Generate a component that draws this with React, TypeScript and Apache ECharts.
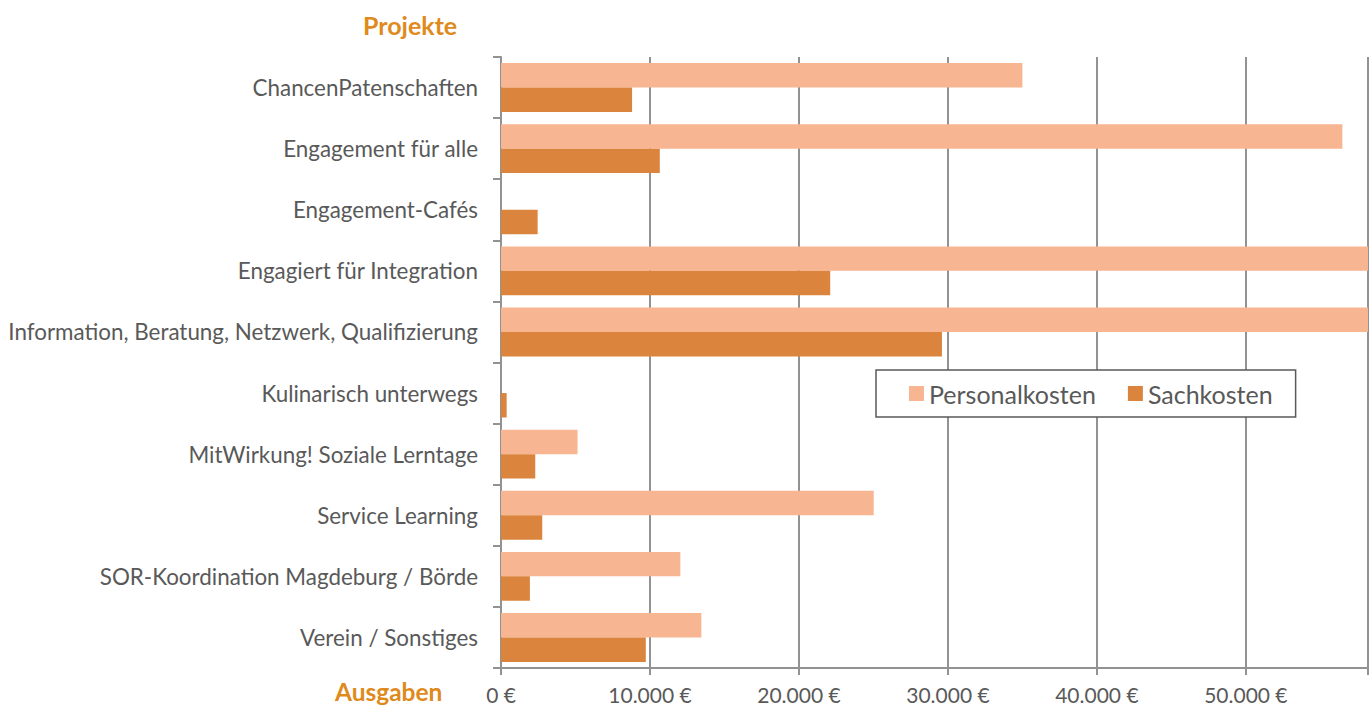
import { useEffect, useRef } from 'react';
import * as echarts from 'echarts';

const categories = [
  'ChancenPatenschaften',
  'Engagement für alle',
  'Engagement-Cafés',
  'Engagiert für Integration',
  'Information, Beratung, Netzwerk, Qualifizierung',
  'Kulinarisch unterwegs',
  'MitWirkung! Soziale Lerntage',
  'Service Learning',
  'SOR-Koordination Magdeburg / Börde',
  'Verein / Sonstiges',
];

const personalkosten = [35000, 56480, null, 61000, 61000, null, 5140, 25020, 12040, 13450];
const sachkosten = [8800, 10660, 2460, 22100, 29600, 380, 2300, 2770, 1940, 9720];

const tickValues = [0, 10000, 20000, 30000, 40000, 50000];
const axisMax = 58200;

const FONT = 'Lato, "Open Sans", sans-serif';
const TEXT = '#595959';
const GRID = '#929292';
const ORANGE_TITLE = '#DF8A1C';

function fmt(v: number) {
  return String(v).replace(/\B(?=(\d{3})+(?!\d))/g, '.') + ' €';
}

export default function App() {
  const ref = useRef<HTMLDivElement>(null);
  useEffect(() => {
    if (!ref.current) return;
    const chart = echarts.init(ref.current, null, { renderer: 'svg' });
    chart.setOption({
      animation: false,
      backgroundColor: '#ffffff',
      textStyle: { fontFamily: FONT },
      grid: { left: 501, top: 57, bottom: 39, right: 0, containLabel: false },
      legend: {
        left: 876,
        top: 370,
        orient: 'horizontal',
        icon: 'rect',
        itemWidth: 15,
        itemHeight: 15,
        itemGap: 32,
        padding: [11, 23, 11, 33],
        borderColor: '#5a5a5a',
        borderWidth: 1.5,
        backgroundColor: '#ffffff',
        textStyle: { fontSize: 25, color: TEXT, fontFamily: FONT },
        data: ['Personalkosten', 'Sachkosten'],
      },
      xAxis: {
        type: 'value',
        min: 0,
        max: axisMax,
        interval: 10000,
        axisLine: { show: true, lineStyle: { color: GRID, width: 2 } },
        axisTick: { show: true, length: 7, lineStyle: { color: GRID, width: 2 } },
        splitLine: { show: true, lineStyle: { color: GRID, width: 2 } },
        axisLabel: {
          margin: 16,
          color: TEXT,
          fontSize: 21,
          fontFamily: FONT,
          formatter: (v: number) => (tickValues.indexOf(v) >= 0 ? fmt(v) : ''),
        },
      },
      yAxis: {
        type: 'category',
        data: categories,
        inverse: true,
        axisLine: { show: true, lineStyle: { color: GRID, width: 2 } },
        axisTick: { show: true, length: 8, lineStyle: { color: GRID, width: 2 } },
        splitLine: { show: false },
        axisLabel: { margin: 23, color: TEXT, fontSize: 22.4, fontFamily: FONT },
      },
      graphic: [
        {
          type: 'text',
          left: 363,
          top: 12,
          style: { text: 'Projekte', fill: ORANGE_TITLE, font: `bold 25px ${FONT}` },
        },
        {
          type: 'text',
          left: 335,
          top: 679,
          style: { text: 'Ausgaben', fill: ORANGE_TITLE, font: `bold 24.5px ${FONT}` },
        },
      ],
      series: [
        {
          name: 'Personalkosten',
          type: 'bar',
          data: personalkosten,
          barGap: '0%',
          barCategoryGap: '20%',
          itemStyle: { color: '#F8B592' },
        },
        {
          name: 'Sachkosten',
          type: 'bar',
          data: sachkosten,
          barGap: '0%',
          barCategoryGap: '20%',
          itemStyle: { color: '#DB843D' },
        },
      ],
    });
    return () => chart.dispose();
  }, []);
  return (
    <div
      ref={ref}
      style={{ position: 'fixed', left: 0, top: 0, width: 1371, height: 707 }}
    />
  );
}
